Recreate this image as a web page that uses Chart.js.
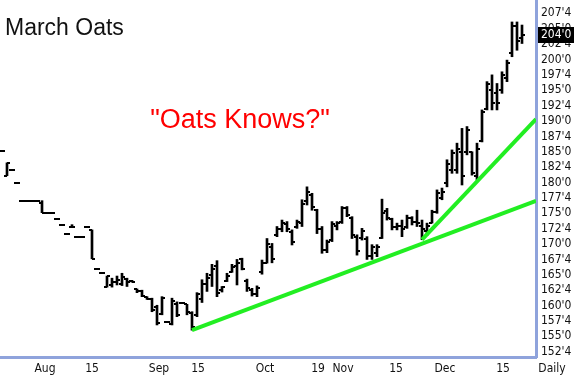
<!DOCTYPE html>
<html><head><meta charset="utf-8">
<script src="https://cdn.jsdelivr.net/npm/chart.js@4/dist/chart.umd.min.js"></script>
<style>html,body{margin:0;padding:0;background:#fff;}#wrap{width:574px;height:378px;}</style>
</head><body><div id="wrap"><canvas id="c" width="574" height="378"></canvas></div>
<script>
const chartTitle = 'March Oats';
const annotationText = '"Oats Knows?"';

const opens  = [185.2,181.1,182.1,179.9,177.05,177.05,177.05,177.05,176.7,175.1,175.1,174.1,173.15,171.7,172.7,171.2,171.2,172.7,172.3,165.9,165.25,163.0,163.3,163.9,163.5,164.4,164.0,162.7,162.4,161.45,161.1,159.8,158.6,157.3,157.0,160.3,160.4,160.2,158.8,158.5,161.0,163.5,165.0,166.5,162.5,164.0,165.5,166.5,167.5,164.0,162.5,161.8,165.4,167.0,169.5,171.5,172.5,173.3,172.0,172.7,173.5,177.0,178.0,175.5,172.5,169.0,170.6,173.0,173.6,175.8,174.3,171.2,171.0,170.8,168.0,168.5,171.0,175.3,174.0,172.8,173.0,172.8,174.2,173.6,173.0,172.2,173.5,175.2,177.5,180.0,182.0,182.0,185.0,185.0,185.0,181.0,186.8,192.0,195.0,194.5,195.0,197.0,201.0,205.5,203.5];
const highs  = [185.2,183.2,182.1,179.9,177.05,177.05,177.05,177.05,177.05,175.1,175.1,174.1,173.15,171.7,173.15,171.2,171.2,172.7,172.3,165.9,165.25,164.8,164.45,164.8,165.25,164.45,164.1,162.7,162.5,161.45,161.2,160.05,161.45,157.3,161.2,160.6,160.4,160.2,159.0,162.1,164.2,165.25,166.7,167.3,163.1,165.25,166.7,167.5,167.7,164.3,162.8,163.2,167.4,170.9,170.1,172.85,173.9,173.65,172.3,173.9,177.2,179.3,178.25,175.65,172.85,170.65,173.65,173.65,176.1,176.1,174.45,171.5,172.55,171.2,169.9,169.9,177.3,175.8,174.2,173.4,173.9,174.7,174.45,175.5,173.9,173.4,175.5,178.8,179.1,183.7,185.3,186.4,188.8,189.1,185.0,186.4,191.8,196.4,197.5,196.1,198.0,199.9,206.1,206.1,205.6];
const lows   = [185.2,181.1,182.1,179.9,177.05,177.05,177.05,177.05,175.1,175.1,175.1,174.1,173.15,171.7,172.7,171.2,171.2,172.7,167.6,165.9,165.25,163.0,163.0,163.35,163.25,163.1,163.8,162.1,161.45,161.0,159.0,156.85,158.5,157.3,156.85,158.2,160.4,158.5,156.0,158.2,160.5,162.3,163.1,161.45,162.2,163.9,165.4,163.35,165.8,162.3,161.55,161.45,165.1,166.9,166.95,171.2,172.0,172.0,169.85,172.55,172.85,176.35,175.5,171.7,168.5,168.6,170.4,172.3,173.35,174.45,170.9,168.2,170.65,167.5,167.5,167.95,170.9,173.9,172.3,172.3,171.2,172.55,173.1,172.85,170.7,171.4,173.4,175.0,177.2,179.3,181.5,181.5,179.6,184.5,181.2,180.4,186.6,191.8,191.8,191.8,194.5,196.4,200.45,201.5,202.6];
const closes = [185.2,183.2,182.1,179.9,177.05,177.05,177.05,177.05,175.1,175.1,175.1,174.1,173.15,171.7,172.7,171.2,171.2,172.7,167.6,165.9,165.25,164.8,163.9,164.1,164.6,163.9,163.9,162.4,161.6,161.1,159.3,157.2,161.2,157.3,160.8,158.5,160.4,159.0,156.5,161.8,163.5,164.5,166.0,162.0,163.0,164.8,166.3,167.0,166.0,162.8,161.8,162.8,167.0,170.0,167.5,172.5,173.5,172.5,170.3,173.6,176.5,178.5,176.0,172.5,169.0,170.3,173.3,173.4,175.8,174.8,171.5,168.8,172.2,168.0,169.5,169.5,175.0,174.3,172.8,173.0,172.5,174.2,173.6,173.5,172.5,173.0,175.2,178.3,178.5,183.0,184.8,185.5,181.0,188.5,181.5,185.5,191.5,196.0,193.0,193.0,197.5,199.5,205.5,203.0,204.0];

const priceTicks = [152.5,155,157.5,160,162.5,165,167.5,170,172.5,175,177.5,180,182.5,185,187.5,190,192.5,195,197.5,200,202.5,205,207.5];
const dateTickPos = [8.6,18,31.4,39.2,52.6,63.2,68.2,78.8,88.6,100.2];
const dateTickLabels = ['Aug','15','Sep','15','Oct','19','Nov','15','Dec','15'];
const periodLabel = 'Daily';

const trendLong  = [{x:38,y:156.0},{x:106.8,y:177.0}];
const trendSteep = [{x:84,y:170.7},{x:106.8,y:190.3}];

const AXIS_BLUE = '#8fa3dc';
const GREEN = '#22ee22';
const FONT_FAMILY = "'Liberation Sans Narrow', 'DejaVu Sans Condensed', 'Liberation Sans', sans-serif";

function tickImg(side){
  const c = document.createElement('canvas');
  c.width = 6; c.height = 2;
  const g = c.getContext('2d');
  g.fillStyle = '#000';
  if (side === 'left') g.fillRect(0,0,3,2); else g.fillRect(3,0,3,2);
  return c;
}
const openImg = tickImg('left');
const closeImg = tickImg('right');

function fmtPrice(v){
  const ip = Math.floor(v + 1e-9);
  const e = Math.round((v - ip) * 8);
  return ip + "'" + e;
}
function zeroPad(s){ s.paddingTop = 0; s.paddingBottom = 0; s.paddingLeft = 0; s.paddingRight = 0; }

const overlay = {
  id: 'overlay',
  afterDraw(chart){
    const {ctx, chartArea, scales} = chart;
    ctx.save();
    ctx.fillStyle = '#111';
    ctx.font = "23px 'Liberation Sans', Arial, sans-serif";
    ctx.textBaseline = 'middle';
    ctx.textAlign = 'left';
    ctx.fillText(chartTitle, 5, 29);
    ctx.fillStyle = '#ff0000';
    ctx.font = "27px 'Liberation Sans', Arial, sans-serif";
    ctx.textAlign = 'center';
    ctx.fillText(annotationText, 240, 121);
    const last = closes[closes.length - 1];
    const y = scales.y.getPixelForValue(last);
    ctx.fillStyle = '#000';
    ctx.fillRect(chartArea.right + 2, Math.round(y) - 8, chart.width - chartArea.right - 2, 16);
    ctx.fillStyle = '#fff';
    ctx.font = "12px " + FONT_FAMILY;
    ctx.textAlign = 'left';
    ctx.fillText(fmtPrice(last), chartArea.right + 5, Math.round(y));
    ctx.fillStyle = '#111';
    ctx.textAlign = 'center';
    ctx.fillText(periodLabel, chartArea.right + 16, chartArea.bottom + 12);
    ctx.restore();
  }
};

new Chart(document.getElementById('c'), {
  type: 'bar',
  data: {
    datasets: [
      {type:'line', data: trendLong, borderColor: GREEN, borderWidth: 4, pointRadius: 0, order: 0, borderCapStyle:'butt'},
      {type:'line', data: trendSteep, borderColor: GREEN, borderWidth: 4, pointRadius: 0, order: 0, borderCapStyle:'butt'},
      {type:'bar', data: highs.map((h,i)=>({x:i, y:[lows[i], h]})), backgroundColor:'#000', barThickness: 2, order: 2},
      {type:'line', showLine:false, data: opens.map((o,i)=>({x:i, y:o})), pointStyle: openImg, pointRadius: 3, order: 1},
      {type:'line', showLine:false, data: closes.map((c,i)=>({x:i, y:c})), pointStyle: closeImg, pointRadius: 3, order: 1}
    ]
  },
  options: {
    responsive: false,
    devicePixelRatio: 1,
    animation: false,
    layout: {padding: 0, autoPadding: false},
    plugins: {legend:{display:false}, tooltip:{enabled:false}},
    scales: {
      x: {
        type: 'linear', min: -0.4, max: 106.8, offset: false,
        afterBuildTicks: s => { s.ticks = dateTickPos.map(v => ({value: v})); },
        afterFit: s => { s.height = 21; zeroPad(s); },
        grid: {display:false, drawTicks:false, offset:false},
        border: {display:true, color: AXIS_BLUE, width: 3},
        ticks: {autoSkip:false, maxRotation:0, padding: 5, color:'#111',
          font:{family: FONT_FAMILY, size: 12},
          callback: (v, idx) => dateTickLabels[idx]}
      },
      y: {
        type: 'linear', position: 'right', min: 151.64, max: 209.67,
        afterBuildTicks: s => { s.ticks = priceTicks.map(v => ({value: v})); },
        afterFit: s => { s.width = 38; zeroPad(s); },
        grid: {display:false, drawTicks:false},
        border: {display:true, color: AXIS_BLUE, width: 3},
        ticks: {autoSkip:false, padding: 5, color:'#111',
          font:{family: FONT_FAMILY, size: 12},
          callback: v => fmtPrice(v)}
      }
    }
  },
  plugins: [overlay]
});
</script></body></html>
